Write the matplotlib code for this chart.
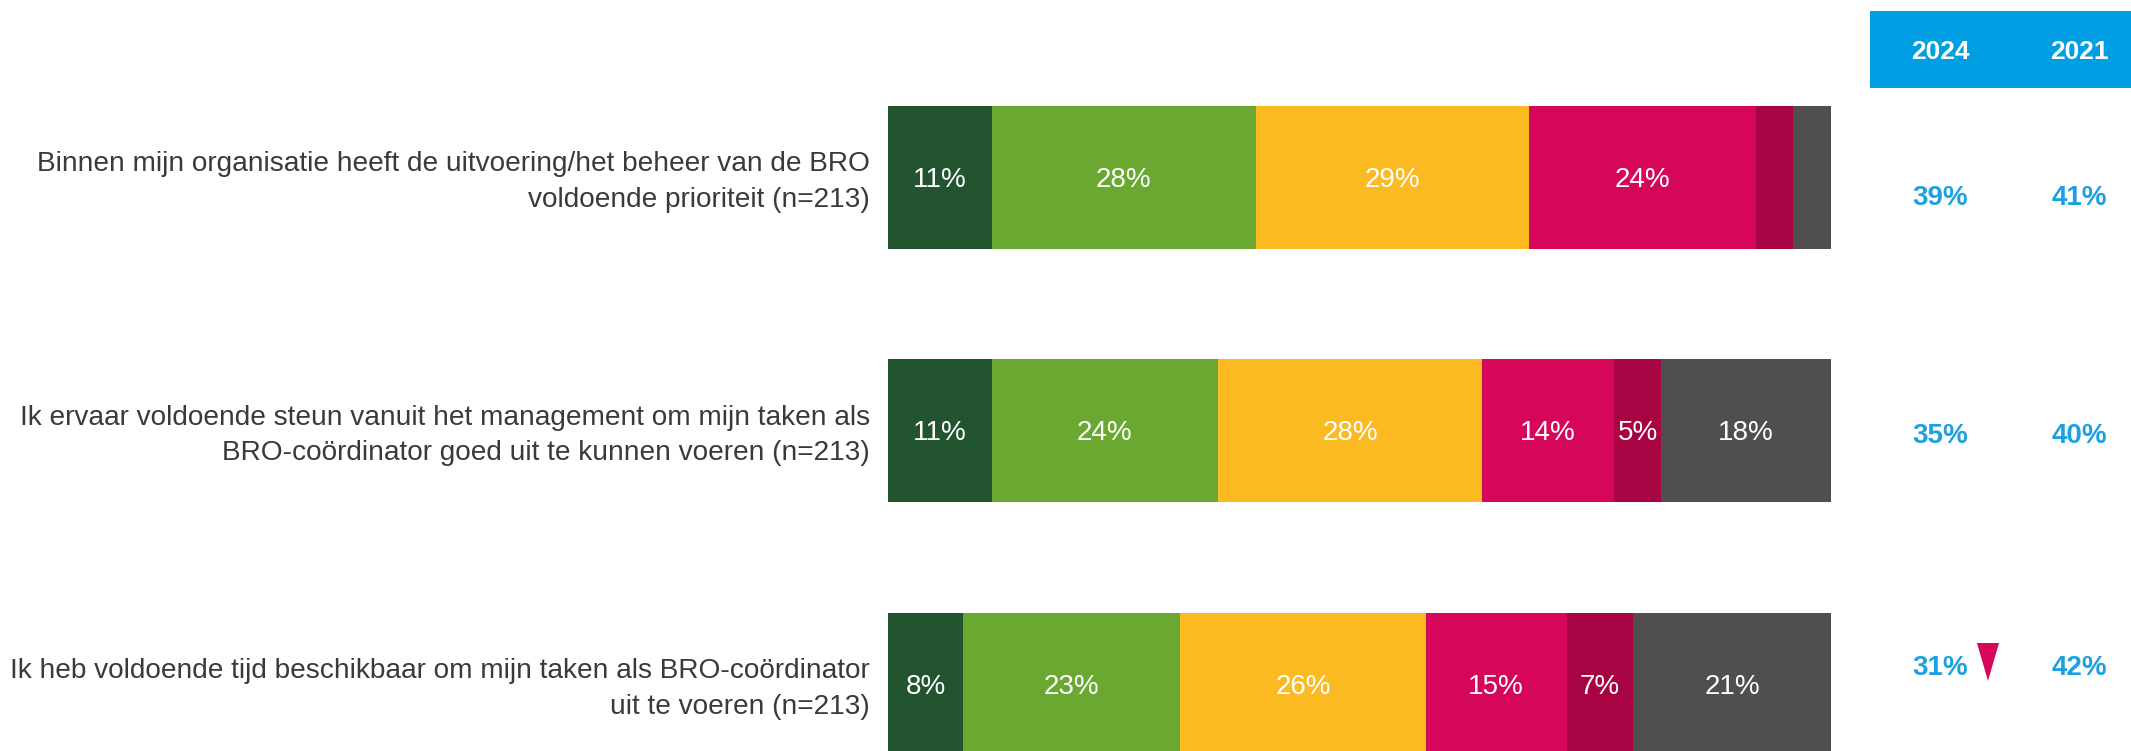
import matplotlib
matplotlib.use("Agg")
import matplotlib.pyplot as plt
import numpy as np

plt.rcParams['font.family'] = ['Liberation Sans', 'DejaVu Sans']

statements = [
    "Binnen mijn organisatie heeft de uitvoering/het beheer van de BRO\nvoldoende prioriteit (n=213)",
    "Ik ervaar voldoende steun vanuit het management om mijn taken als\nBRO-coördinator goed uit te kunnen voeren (n=213)",
    "Ik heb voldoende tijd beschikbaar om mijn taken als BRO-coördinator\nuit te voeren (n=213)",
]
seg1 = [11, 11, 8]     # dark green
seg2 = [28, 24, 23]    # green
seg3 = [29, 28, 26]    # yellow
seg4 = [24, 14, 15]    # magenta
seg5 = [4, 5, 7]       # dark magenta
seg6 = [4, 18, 21]     # grey
segments = [seg1, seg2, seg3, seg4, seg5, seg6]
colors = ["#235430", "#6AA832", "#FBBA22", "#D6075B", "#A80343", "#504F4D"]

years = ["2024", "2021"]
score_2024 = ["39%", "35%", "31%"]
score_2021 = ["41%", "40%", "42%"]
sig_down_2024 = [False, False, True]

W, H = 2131, 751
fig = plt.figure(figsize=(W / 100, H / 100), dpi=100)

# bar axes
x0, x1 = 888, 1831
ax = fig.add_axes([x0 / W, 0, (x1 - x0) / W, 1])
pitch = 253.5
c0 = 177
ax.set_ylim((H - c0) / pitch, -c0 / pitch)
ax.set_xlim(0, 100)
ax.axis("off")
px = 1 / pitch  # one pixel in data units (vertical)

ypos = np.arange(len(statements))
left = np.zeros(len(statements))
for vals, col in zip(segments, colors):
    vals = np.array(vals, dtype=float)
    ax.barh(ypos, vals, left=left, height=143 / pitch, color=col,
            edgecolor="none")
    for y, l, v in zip(ypos, left, vals):
        if v >= 5:
            ax.text(l + v / 2, y + 3 * px, f"{int(v)}%", ha="center",
                    va="center", color="white", fontsize=20)
    left += vals

# statement labels
for y, s in zip(ypos, statements):
    ax.text(-18 / (x1 - x0) * 100, y + 5 * px, s, ha="right", va="center",
            fontsize=20.2, color="#3A3A3A", linespacing=1.48)

# right table axes
tx0 = 1870
tax = fig.add_axes([tx0 / W, 0, (W - tx0) / W, 1])
tax.set_xlim(tx0, W)
tax.set_ylim(H, 0)
tax.axis("off")
tax.add_patch(plt.Rectangle((tx0, 11), W - tx0, 77, color="#009FE3", lw=0))
col_x = [1940, 2079]
for cx, yr in zip(col_x, years):
    tax.text(cx, 52, yr, ha="center", va="center", color="white",
             fontsize=19, fontweight="bold")

row_y = [196, 434, 666]
for ry, a, b, sig in zip(row_y, score_2024, score_2021, sig_down_2024):
    tax.text(col_x[0], ry + 2, a, ha="center", va="center", color="#1BA1E2",
             fontsize=20, fontweight="bold")
    tax.text(col_x[1], ry + 2, b, ha="center", va="center", color="#1BA1E2",
             fontsize=20, fontweight="bold")

# significance triangle (in figure pixel space)
fax = fig.add_axes([0, 0, 1, 1])
fax.set_xlim(0, W)
fax.set_ylim(H, 0)
fax.axis("off")
for ry, sig in zip(row_y, sig_down_2024):
    if sig:
        tri = plt.Polygon([[1977, ry - 23], [1999, ry - 23], [1988, ry + 15]],
                          closed=True, color="#D6075B", lw=0)
        fax.add_patch(tri)

fig.savefig("out.png", dpi=100)
